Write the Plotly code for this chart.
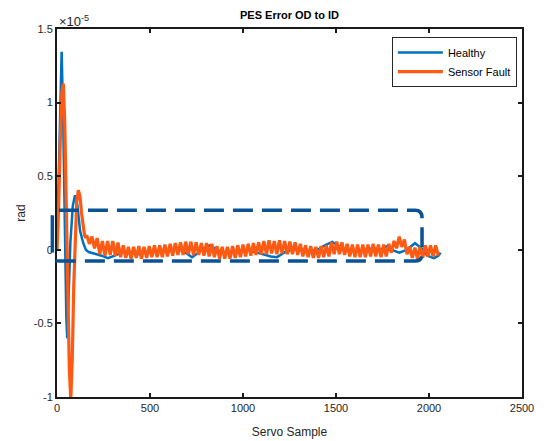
import plotly.graph_objects as go

# ---- data (y in units of 1e-5 rad) ----
healthy_x = [0, 8, 18, 25, 33, 42, 50, 55, 62, 72, 85, 97, 110, 124, 140, 155, 170,
             200, 240, 274, 320, 360, 400, 440, 480, 520, 560, 600, 640, 680, 726,
             760, 800, 822, 860, 900, 950, 1000, 1050, 1100, 1150, 1183, 1220, 1260,
             1300, 1350, 1400, 1440, 1480, 1520, 1560, 1600, 1650, 1700, 1740, 1775,
             1800, 1840, 1880, 1925, 1960, 1990, 2027, 2050, 2063]
healthy_y = [0.0, 0.4, 1.1, 1.345, 0.9, 0.0, -0.45, -0.60, -0.35, 0.05, 0.30, 0.37,
             0.30, 0.13, 0.05, 0.0, -0.015,
             -0.025, -0.04, -0.057, -0.035, -0.01, -0.02, -0.03, -0.02, -0.01,
             -0.005, 0.0, 0.01, -0.01, -0.05,
             -0.02, 0.02, 0.03, 0.0, -0.02, -0.01, 0.0, -0.01, -0.03, -0.045, -0.05,
             -0.02, 0.0, 0.01, -0.01, 0.0, 0.03, 0.054, 0.02, 0.0, -0.01, 0.0, 0.01,
             0.0, 0.025, 0.0, -0.02, 0.0, 0.045, 0.01, -0.04, -0.057, -0.04, -0.02]

fault_start_x = [0, 8, 18, 27, 34, 42, 50, 58, 66, 74, 82, 90, 98, 106, 115, 124,
                 132, 140, 148, 154]
fault_start_y = [0.0, 0.25, 0.75, 1.08, 1.13, 0.85, 0.3, -0.35, -0.8, -1.02, -0.75,
                 -0.25, 0.1, 0.33, 0.405, 0.36, 0.25, 0.15, 0.1, 0.08]
# oscillating part, one value every 14 samples starting at 160
fault_osc_y = [
    0.10, 0.04, 0.09, 0.01, 0.08, -0.03, 0.06, -0.04, 0.06, -0.035, 0.06, -0.04, 0.05,
    -0.05, 0.03, -0.055, 0.02, -0.06, 0.02, -0.055, 0.025, -0.06, 0.02, -0.055, 0.025,
    -0.05, 0.03, -0.05, 0.03,
    -0.05, 0.035, -0.045, 0.04, -0.04, 0.045, -0.035, 0.05, -0.035, 0.055, -0.03,
    0.055, -0.035, 0.05, -0.035,
    0.045, -0.04, 0.045, -0.045, 0.04,
    -0.05, 0.025, -0.06, 0.02, -0.06, 0.02, -0.06, 0.025, -0.055, 0.03, -0.05,
    0.035, -0.045, 0.04, -0.04, 0.045, -0.035, 0.05, -0.03,
    0.06, -0.03, 0.065, -0.025, 0.06, -0.03, 0.065, -0.025, 0.06, -0.03, 0.055,
    -0.03, 0.05, -0.035,
    0.04, -0.045, 0.03, -0.05, 0.025, -0.055, 0.02, -0.055, 0.025, -0.05, 0.03, -0.045,
    0.05, -0.03, 0.055, -0.03, 0.05, -0.035,
    0.04, -0.045, 0.035, -0.05, 0.035, -0.05, 0.035, -0.05, 0.035, -0.045, 0.04,
    -0.045, 0.035, -0.05, 0.035, -0.045, 0.04,
    -0.02, 0.06, 0.01, 0.09, 0.02, 0.07, -0.03,
    0.02, -0.055, 0.015, -0.06, 0.02, -0.055,
    0.03, -0.045, 0.03, -0.045, 0.03, -0.04,
]
fault_osc_x = [160 + 14 * i for i in range(len(fault_osc_y))]
fault_x = fault_start_x + fault_osc_x
fault_y = fault_start_y + fault_osc_y

x_ticks = [0, 500, 1000, 1500, 2000, 2500]
y_ticks = [-1, -0.5, 0, 0.5, 1, 1.5]
y_tick_text = ["-1", "-0.5", "0", "0.5", "1", "1.5"]

# highlight box (paper x, data y)
box_x0, box_x1 = -0.01, 0.785
box_y0, box_y1 = -0.076, 0.269

BLUE = "#0072BD"
ORANGE = "#FF5A14"
BOX = "#0A5296"
FONT = "Liberation Sans, Arial, sans-serif"

fig = go.Figure()
fig.add_trace(go.Scatter(x=healthy_x, y=healthy_y, mode="lines", name="Healthy",
                         line=dict(color=BLUE, width=2.5)))
fig.add_trace(go.Scatter(x=fault_x, y=fault_y, mode="lines", name="Sensor Fault",
                         line=dict(color=ORANGE, width=3.2)))

rx, ry = 0.015, 0.05
ymid = (box_y0 + box_y1) / 2
path = (f"M {box_x0},{ymid} L {box_x0},{box_y1-ry} "
        f"Q {box_x0},{box_y1} {box_x0+rx},{box_y1} L {box_x1-rx},{box_y1} "
        f"Q {box_x1},{box_y1} {box_x1},{box_y1-ry} L {box_x1},{box_y0+ry} "
        f"Q {box_x1},{box_y0} {box_x1-rx},{box_y0} L {box_x0+rx},{box_y0} "
        f"Q {box_x0},{box_y0} {box_x0},{box_y0+ry} Z")
fig.add_shape(type="path", path=path, xref="paper", yref="y",
              line=dict(color=BOX, width=3.5, dash="20px,9px"))

axis_common = dict(showgrid=False, zeroline=False, showline=True, linecolor="#1a1a1a",
                   linewidth=2, mirror="ticks", ticks="inside", ticklen=4,
                   tickwidth=2, tickcolor="#1a1a1a", automargin=False,
                   tickfont=dict(family=FONT, size=11, color="#262626"))

fig.update_layout(
    width=549, height=441,
    margin=dict(l=57, r=27, t=29, b=44),
    paper_bgcolor="white", plot_bgcolor="white",
    font=dict(family=FONT, size=11, color="#262626"),
    title=dict(text="<b>PES Error OD to ID</b>", x=0.5, xref="paper", xanchor="center",
               y=0.966, yref="container", yanchor="middle",
               font=dict(family=FONT, size=11, color="#000000")),
    xaxis=dict(range=[0, 2500], tickvals=x_ticks,
               title=dict(text="Servo Sample", font=dict(family=FONT, size=12, color="#262626"),
                          standoff=14),
               **axis_common),
    yaxis=dict(range=[-1, 1.5], tickvals=y_ticks, ticktext=y_tick_text,
               title=dict(text="rad", font=dict(family=FONT, size=12, color="#262626"),
                          standoff=6),
               **axis_common),
    legend=dict(x=0.989, y=0.978, xanchor="right", yanchor="top",
                bgcolor="white", bordercolor="#262626", borderwidth=1,
                font=dict(family=FONT, size=11, color="#000000"),
                tracegroupgap=0, itemwidth=45),
    showlegend=True,
)
fig.add_annotation(text="×10<sup>-5</sup>", xref="paper", yref="paper", x=0, y=1,
                   xanchor="left", yanchor="bottom", showarrow=False, xshift=0, yshift=-2,
                   font=dict(family=FONT, size=13, color="#262626"))

fig.write_html("out.html")
